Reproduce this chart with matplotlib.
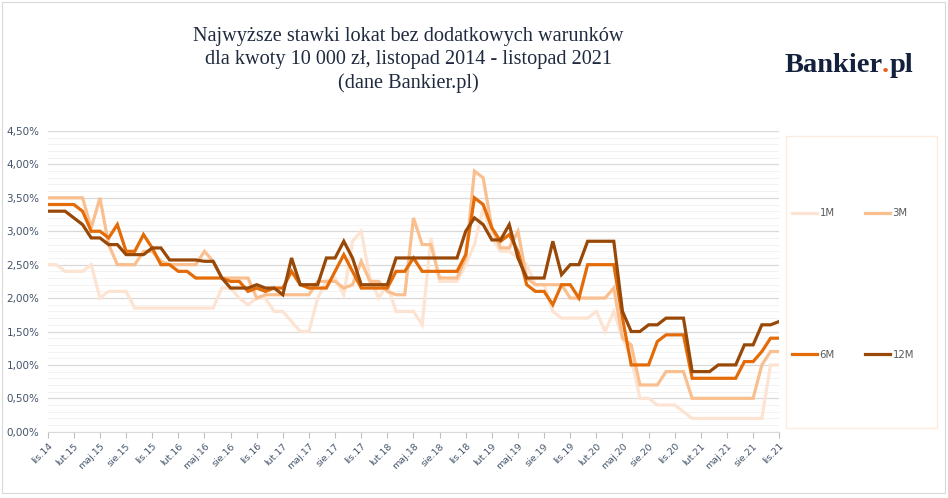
import numpy as np
import matplotlib.pyplot as plt
from matplotlib.ticker import MultipleLocator, FuncFormatter
from matplotlib.patches import Rectangle
from matplotlib.font_manager import FontProperties

month_names = ['sty', 'lut', 'mar', 'kwi', 'maj', 'cze',
               'lip', 'sie', 'wrz', 'paź', 'lis', 'gru']
# listopad 2014 - listopad 2021
months = []
for k in range(85):
    months.append('%s.%d' % (month_names[(10 + k) % 12], 14 + (10 + k) // 12))

series_names = ['1M', '3M', '6M', '12M']
rate_1m = [2.50, 2.50, 2.40, 2.40, 2.40, 2.50, 2.00, 2.10, 2.10, 2.10,
           1.85, 1.85, 1.85, 1.85, 1.85, 1.85, 1.85, 1.85, 1.85, 1.85,
           2.15, 2.15, 2.00, 1.90, 2.00, 2.00, 1.80, 1.80, 1.65, 1.50,
           1.50, 2.00, 2.25, 2.30, 2.05, 2.85, 3.00, 2.30, 2.00, 2.20,
           1.80, 1.80, 1.80, 1.60, 2.90, 2.25, 2.25, 2.25, 2.50, 2.80,
           3.35, 2.90, 2.70, 2.70, 2.60, 2.50, 2.20, 2.20, 1.80, 1.70,
           1.70, 1.70, 1.70, 1.80, 1.50, 1.80, 1.40, 1.10, 0.50, 0.50,
           0.40, 0.40, 0.40, 0.30, 0.20, 0.20, 0.20, 0.20, 0.20, 0.20,
           0.20, 0.20, 0.20, 1.00, 1.00]
rate_3m = [3.50, 3.50, 3.50, 3.50, 3.50, 3.05, 3.50, 2.80, 2.50, 2.50,
           2.50, 2.70, 2.70, 2.55, 2.50, 2.50, 2.50, 2.50, 2.70, 2.55,
           2.30, 2.30, 2.30, 2.30, 2.00, 2.05, 2.05, 2.05, 2.05, 2.05,
           2.05, 2.25, 2.25, 2.25, 2.15, 2.20, 2.55, 2.25, 2.25, 2.10,
           2.05, 2.05, 3.20, 2.80, 2.80, 2.30, 2.30, 2.30, 2.60, 3.90,
           3.80, 3.05, 2.75, 2.75, 3.00, 2.30, 2.20, 2.20, 2.20, 2.20,
           2.00, 2.00, 2.00, 2.00, 2.00, 2.15, 1.40, 1.30, 0.70, 0.70,
           0.70, 0.90, 0.90, 0.90, 0.50, 0.50, 0.50, 0.50, 0.50, 0.50,
           0.50, 0.50, 1.00, 1.20, 1.20]
rate_6m = [3.40, 3.40, 3.40, 3.40, 3.30, 3.00, 3.00, 2.90, 3.10, 2.70,
           2.70, 2.95, 2.75, 2.50, 2.50, 2.40, 2.40, 2.30, 2.30, 2.30,
           2.30, 2.25, 2.25, 2.10, 2.15, 2.10, 2.15, 2.15, 2.40, 2.20,
           2.15, 2.15, 2.15, 2.40, 2.65, 2.40, 2.15, 2.15, 2.15, 2.15,
           2.40, 2.40, 2.60, 2.40, 2.40, 2.40, 2.40, 2.40, 2.65, 3.50,
           3.40, 3.05, 2.85, 2.95, 2.70, 2.20, 2.10, 2.10, 1.90, 2.20,
           2.20, 2.00, 2.50, 2.50, 2.50, 2.50, 1.70, 1.00, 1.00, 1.00,
           1.35, 1.45, 1.45, 1.45, 0.80, 0.80, 0.80, 0.80, 0.80, 0.80,
           1.05, 1.05, 1.20, 1.40, 1.40]
rate_12m = [3.30, 3.30, 3.30, 3.20, 3.10, 2.90, 2.90, 2.80, 2.80, 2.65,
            2.65, 2.65, 2.75, 2.75, 2.57, 2.57, 2.57, 2.57, 2.55, 2.55,
            2.30, 2.15, 2.15, 2.15, 2.20, 2.15, 2.15, 2.05, 2.60, 2.20,
            2.20, 2.20, 2.60, 2.60, 2.85, 2.60, 2.20, 2.20, 2.20, 2.20,
            2.60, 2.60, 2.60, 2.60, 2.60, 2.60, 2.60, 2.60, 3.00, 3.20,
            3.10, 2.87, 2.87, 3.10, 2.60, 2.30, 2.30, 2.30, 2.85, 2.35,
            2.50, 2.50, 2.85, 2.85, 2.85, 2.85, 1.80, 1.50, 1.50, 1.60,
            1.60, 1.70, 1.70, 1.70, 0.90, 0.90, 0.90, 1.00, 1.00, 1.00,
            1.30, 1.30, 1.60, 1.60, 1.65]
colors = ['#FDE4D2', '#FABF8F', '#E36C09', '#984807']

fig = plt.figure(figsize=(9.48, 4.98), dpi=100)
ax = fig.add_axes([0.0503, 0.133, 0.7717, 0.604])

x = np.arange(len(months))
handles = []
for name, vals, c in zip(series_names, [rate_1m, rate_3m, rate_6m, rate_12m], colors):
    h, = ax.plot(x, vals, color=c, lw=2.3, label=name, solid_joinstyle='miter')
    handles.append(h)

ax.set_xlim(0, len(months) - 1)
ax.set_ylim(0, 4.5)
ax.yaxis.set_major_locator(MultipleLocator(0.5))
ax.yaxis.set_minor_locator(MultipleLocator(0.1))
ax.yaxis.set_major_formatter(FuncFormatter(lambda v, p: ('%.2f%%' % v).replace('.', ',')))
ax.grid(axis='y', which='major', color='#D9D9D9', lw=0.9)
ax.grid(axis='y', which='minor', color='#F2F2F2', lw=0.7)
ax.set_axisbelow(True)

ax.set_xticks(x[::3])
ax.set_xticklabels(months[::3], rotation=45, ha='right', rotation_mode='anchor',
                   fontsize=6.8, color='#44546A')
ax.tick_params(axis='x', which='major', length=4, color='#BFBFBF', pad=3)
ax.tick_params(axis='y', which='both', length=0, labelsize=7.5, labelcolor='#44546A', pad=6)
for s in ['top', 'right', 'left']:
    ax.spines[s].set_visible(False)
ax.spines['bottom'].set_color('#D9D9D9')

# tytul
fig.text(0.431, 0.879, 'Najwyższe stawki lokat bez dodatkowych warunków\n'
         'dla kwoty 10 000 zł, listopad 2014 - listopad 2021\n(dane Bankier.pl)',
         ha='center', va='center', fontsize=14.6, family='Liberation Serif',
         color='#1F2A3F', linespacing=1.3)

# logo: Bankier + pomaranczowa kropka + pl, pozycje liczone z szerokosci napisow
logo_prop = FontProperties(family='Liberation Serif', weight='bold', size=20.5)
renderer = fig.canvas.get_renderer()


def text_w(s):
    return renderer.get_text_width_height_descent(s, logo_prop, ismath=False)[0] / fig.bbox.width


x0, logo_y = 0.828, 0.856
x_dot = x0 + text_w('Bankier.') - text_w('.') + 1.0 / 948
x_pl = x0 + text_w('Bankier.pl') - text_w('pl') + 2.5 / 948
fig.text(x0, logo_y, 'Bankier', color='#14213D', fontproperties=logo_prop, va='baseline')
fig.text(x_dot, logo_y, '.', color='#E8601C', fontproperties=logo_prop, va='baseline')
fig.text(x_pl, logo_y, 'pl', color='#14213D', fontproperties=logo_prop, va='baseline')

# ramka legendy
fig.patches.append(Rectangle((786 / 948, 1 - 428 / 498), 151 / 948, 292 / 498,
                             transform=fig.transFigure, fill=False,
                             edgecolor='#FDEBDD', lw=1))
leg = fig.legend([handles[0], handles[2], handles[1], handles[3]],
                 ['1M', '6M', '3M', '12M'], ncol=2, loc='center',
                 bbox_to_anchor=(853 / 948, 1 - 284 / 498), frameon=False,
                 fontsize=7.3, labelspacing=13.0, columnspacing=3.0,
                 handlelength=2.5, handletextpad=0.2)
for t in leg.get_texts():
    t.set_color('#595959')

# obramowanie
fig.patches.append(Rectangle((2 / 948, 5 / 498), 943 / 948, 491 / 498,
                             transform=fig.transFigure, fill=False,
                             edgecolor='#D9D9D9', lw=0.8))

fig.savefig('out.png', dpi=100, facecolor='white')
